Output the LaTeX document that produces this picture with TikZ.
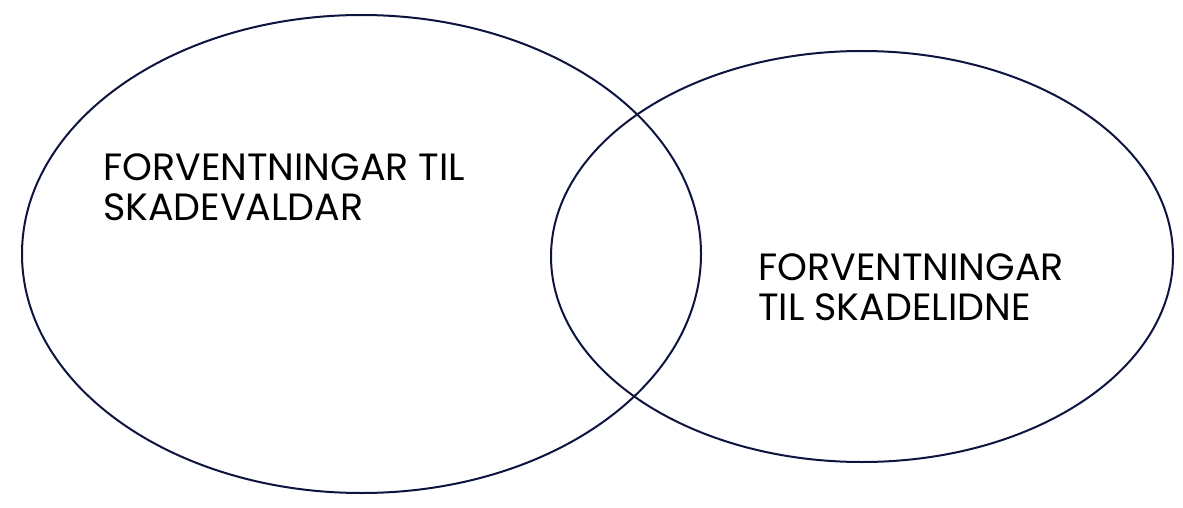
\documentclass[tikz,border=0pt]{standalone}
\usepackage{fontspec}
\setmainfont{Poppins}
\usetikzlibrary{positioning}
\definecolor{navy}{HTML}{0D1440}
\tikzset{
  ring/.style={draw=navy, line width=2pt},
  label/.style={anchor=base west, align=left, inner sep=0pt, font=\fontsize{38}{40}\selectfont}
}
\begin{document}
\begin{tikzpicture}[x=1pt,y=-1pt]
  \useasboundingbox (0,0) rectangle (1183,508);
  % the two sets
  \draw[ring] (361.5,254) ellipse [x radius=339.5, y radius=239];
  \draw[ring] (862,256.5) ellipse [x radius=311, y radius=205.5];
  % texts
  \node[label] (skadevaldar) at (103,220) {FORVENTNINGAR TIL\\SKADEVALDAR};
  \node[label] (skadelidne) at (758,320) {FORVENTNINGAR\\TIL SKADELIDNE};
\end{tikzpicture}
\end{document}
